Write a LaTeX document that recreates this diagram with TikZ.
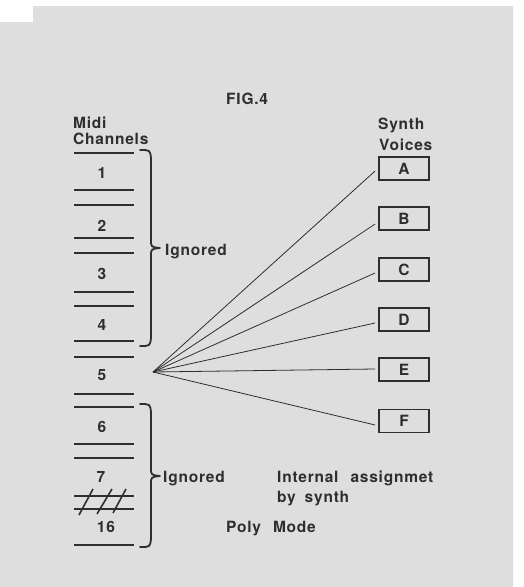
\documentclass[tikz,border=0pt]{standalone}
\usepackage{fontspec}
\newfontfamily\hv[LetterSpace=5]{TeX Gyre Heros}
\definecolor{ink}{gray}{0.18}
\definecolor{paper}{gray}{0.87}
\begin{document}
\begin{tikzpicture}[x=1pt,y=-1pt,
  txt/.style={inner sep=0pt, anchor=base west, text=ink, font=\hv\bfseries\fontsize{15.5}{17}\selectfont},
  num/.style={txt, anchor=base},
  chline/.style={draw=ink, line width=1.8pt},
  bracestroke/.style={draw=ink, line width=1.8pt, line join=round, line cap=round},
  voice/.style={draw=ink, line width=1.8pt, minimum width=50pt, minimum height=23pt, inner sep=0pt, text=ink, font=\hv\bfseries\fontsize{15.5}{17}\selectfont},
  fanline/.style={draw=ink, line width=0.8pt}]
\useasboundingbox (0,0) rectangle (523,587);
% paper
\fill[white] (0,0) rectangle (523,587);
\fill[paper] (0,22) -- (33,22) -- (33,6) -- (513,6) -- (513,587) -- (0,587) -- cycle;
% titles
\node[txt] (fig) at (226,104) {FIG.4};
\node[txt] (midi) at (73,128) {Midi};
\node[txt] (chan) at (73,144) {Channels};
\node[txt] (synth) at (378,129) {Synth};
\node[txt] (voices) at (379,150) {Voices};
% channel lines
\foreach \y in {153,190,205,238,253,292,306,341,357,394,407,444,458,496,509,545}
  \draw[chline] (74,\y) -- (134,\y);
% channel numbers
\node[num] (c1) at (102,178) {1};
\node[num] (c2) at (102,231) {2};
\node[num] (c3) at (102,279) {3};
\node[num] (c4) at (102,330) {4};
\node[num] (c5) at (102,380) {5};
\node[num] (c6) at (102,432) {6};
\node[num] (c7) at (101,482) {7};
\node[num] (c16) at (106,532) {16};
% slashes
\draw[chline, line width=1.6pt] (79,515) -- (93,489);
\draw[chline, line width=1.6pt] (97,514) -- (112,489);
\draw[chline, line width=1.6pt] (113,513) -- (126,489);
% braces
\draw[bracestroke] (140,150) .. controls (150,150) .. (151,158) -- (151,240)
  .. controls (151,247) .. (160,248) .. controls (151,249) .. (151,256) -- (151,338)
  .. controls (150,346) .. (140,346);
\draw[bracestroke] (140,404) .. controls (150,404) .. (151,412) -- (151,468)
  .. controls (151,475) .. (160,476) .. controls (151,477) .. (151,484) -- (151,539)
  .. controls (150,547) .. (140,547);
\node[txt] (ign1) at (165,255) {Ignored};
\node[txt] (ign2) at (163,482) {Ignored};
% voices
\node[voice] (A) at (404,168.5) {A};
\node[voice] (B) at (404,218.5) {B};
\node[voice] (C) at (404,269.5) {C};
\node[voice] (D) at (404,319.5) {D};
\node[voice] (E) at (404,369.5) {E};
\node[voice] (F) at (404,421) {F};
% fan
\coordinate (fan) at (153,372);
\foreach \v/\dy in {A/-2.5,B/-5.5,C/-3.5,D/-3.5,E/0.5,F/-4}
  \draw[fanline] (fan) -- ([xshift=-3pt,yshift=\dy pt]\v.west);
% notes
\node[txt] (int1) at (277,482) {Internal\hspace{12pt}assignmet};
\node[txt] (int2) at (277,502) {by\hspace{9pt}synth};
\node[txt] (poly) at (226,532) {Poly\hspace{12pt}Mode};
\end{tikzpicture}
\end{document}
